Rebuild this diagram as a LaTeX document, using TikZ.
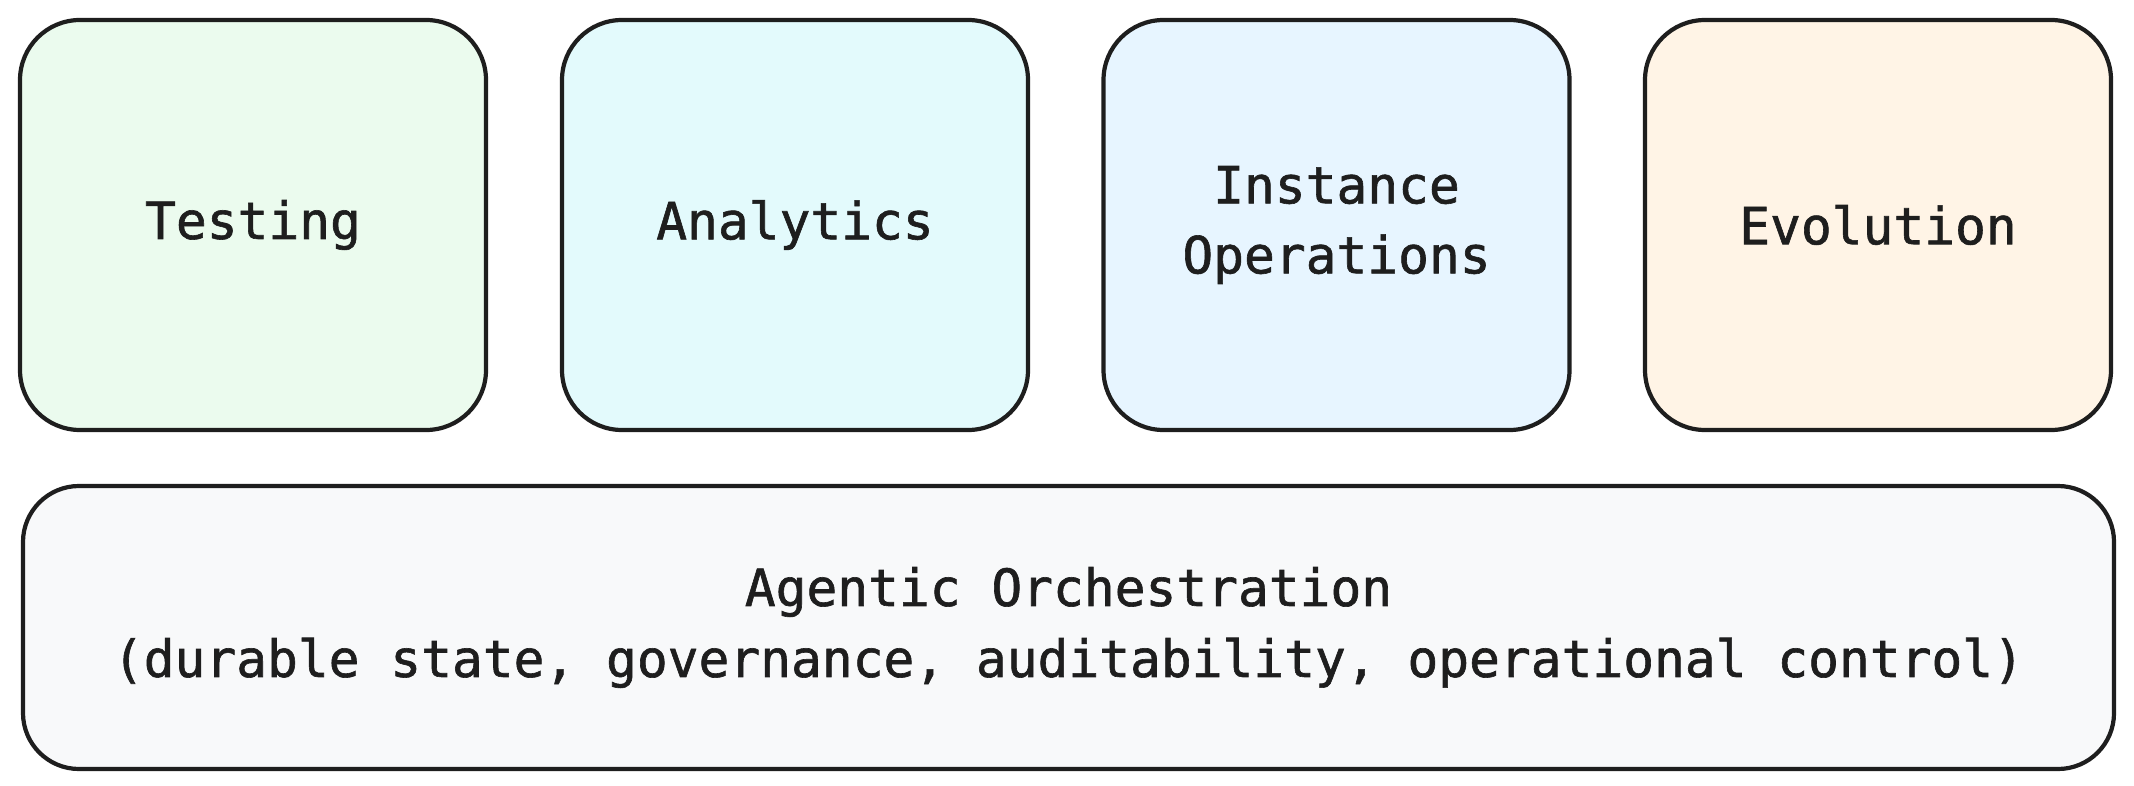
\documentclass[tikz,border=0pt]{standalone}
\usepackage{fontspec}
\setmonofont[FakeBold=1.2,AutoFakeBold=1.2]{DejaVu Sans Mono}
\definecolor{strokec}{HTML}{1E1E1E}
\definecolor{fillgreen}{HTML}{EBFBEE}
\definecolor{fillcyan}{HTML}{E3FAFC}
\definecolor{fillblue}{HTML}{E7F5FF}
\definecolor{fillorange}{HTML}{FFF4E6}
\definecolor{fillgray}{HTML}{F8F9FA}
\tikzset{
  card/.style={draw=strokec, line width=2.1pt, rounded corners=30pt,
    minimum width=233pt, minimum height=205pt, align=center,
    font=\ttfamily\fontsize{25.6}{35}\selectfont, text=strokec, inner sep=0pt},
  base/.style={draw=strokec, line width=2.1pt, rounded corners=28pt,
    minimum width=1045.5pt, minimum height=141.5pt, align=center,
    font=\ttfamily\fontsize{25.6}{35.5}\selectfont, text=strokec, inner sep=0pt}
}
\begin{document}
\begin{tikzpicture}[x=0.5pt,y=-0.5pt]
\useasboundingbox (0,0) rectangle (2134,786);
\node[card, fill=fillgreen] (testing) at (253,225) {Testing};
\node[card, fill=fillcyan] (analytics) at (795,225) {Analytics};
\node[card, fill=fillblue] (instance) at (1336.5,225) {Instance\\Operations};
\node[card, fill=fillorange] (evolution) at (1878,225) {Evolution};
\node[base, fill=fillgray] (orch) at (1068.5,627.5) {Agentic Orchestration\\(durable state, governance, auditability, operational control)};
\end{tikzpicture}
\end{document}
